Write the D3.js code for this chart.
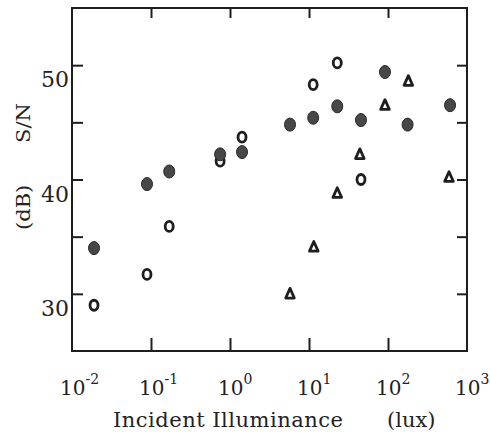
<!DOCTYPE html>
<html>
<head>
<meta charset="utf-8">
<script src="https://cdn.jsdelivr.net/npm/d3@7"></script>
<style>
  body { margin: 0; background: #fff; }
  text { font-family: "DejaVu Serif", serif; fill: #222; }
</style>
</head>
<body>
<svg id="chart" width="491" height="434"></svg>
<script>
// filled circles
const filledLux = [0.019, 0.089, 0.17, 0.75, 1.42, 5.75, 11.3, 22.8, 45.5, 91.6, 177, 610];
const filledDb = [34.0, 39.6, 40.7, 42.2, 42.4, 44.8, 45.4, 46.4, 45.2, 49.4, 44.8, 46.5];

// open circles
const openLux = [0.019, 0.089, 0.17, 0.75, 1.42, 11.3, 22.8, 45.5];
const openDb = [29.0, 31.7, 35.9, 41.6, 43.7, 48.3, 50.2, 40.0];

// open triangles
const triLux = [5.75, 11.5, 22.8, 44, 91.6, 181, 592];
const triDb = [30.0, 34.1, 38.8, 42.2, 46.5, 48.6, 40.2];

const xTicks = [1e-2, 1e-1, 1, 10, 100, 1000];
const xTickExp = ["-2", "-1", "0", "1", "2", "3"];
const xInnerTicks = [1e-1, 1, 10, 100];
const yLabelTicks = [30, 40, 50];
const yMarkTicks = [30, 35, 40, 45, 50];

const svg = d3.select("#chart");
const ink = "#1e1e1e";

const x = d3.scaleLog().domain([1e-2, 1e3]).range([72, 467]);
const y = d3.scaleLinear().domain([25, 55]).range([351, 8]);

// ticks pointing inward on all four sides
function styleAxis(g) {
  g.select(".domain").remove();
  g.selectAll(".tick line").attr("stroke", ink).attr("stroke-width", 2);
  g.selectAll(".tick text").remove();
}
svg.append("g").attr("transform", "translate(0,351)")
  .call(d3.axisBottom(x).tickValues(xInnerTicks).tickSize(-13)).call(styleAxis);
svg.append("g").attr("transform", "translate(0,8)")
  .call(d3.axisTop(x).tickValues(xInnerTicks).tickSize(-10)).call(styleAxis);
svg.append("g").attr("transform", "translate(72,0)")
  .call(d3.axisLeft(y).tickValues(yMarkTicks).tickSize(-11)).call(styleAxis);
svg.append("g").attr("transform", "translate(467,0)")
  .call(d3.axisRight(y).tickValues(yMarkTicks).tickSize(-10)).call(styleAxis);

svg.append("rect")
  .attr("x", x.range()[0]).attr("y", y.range()[1])
  .attr("width", x.range()[1] - x.range()[0])
  .attr("height", y.range()[0] - y.range()[1])
  .attr("fill", "none").attr("stroke", ink).attr("stroke-width", 2);

// y tick labels (sit just below their ticks)
svg.append("g").selectAll("text").data(yLabelTicks).join("text")
  .attr("x", 69).attr("y", d => y(d) + 22)
  .attr("text-anchor", "end").attr("font-size", 22)
  .text(d => d);

// x tick labels, 10 with superscript exponent
const xl = svg.append("g").selectAll("text").data(d3.zip(xTicks, xTickExp)).join("text")
  .attr("x", d => x(d[0]) - 12).attr("y", 395).attr("font-size", 20);
xl.append("tspan").text("10");
xl.append("tspan").attr("font-size", 14).attr("dy", -11).text(d => d[1]);

// axis titles
svg.append("text").attr("x", 113).attr("y", 427).attr("font-size", 21)
  .attr("letter-spacing", 0.5).text("Incident Illuminance");
svg.append("text").attr("x", 387).attr("y", 427).attr("font-size", 21).text("(lux)");

svg.append("text").attr("transform", "translate(30,230) rotate(-90) scale(1,0.9)")
  .attr("font-size", 21).text("(dB)");
svg.append("text").attr("transform", "translate(30,143) rotate(-90) scale(1,0.9)")
  .attr("font-size", 21).text("S/N");

// markers
const tallTriangle = {
  draw(context) {
    context.moveTo(0, -5.5);
    context.lineTo(4.3, 4.2);
    context.lineTo(-4.3, 4.2);
    context.closePath();
  }
};

svg.append("g").selectAll("ellipse").data(d3.zip(openLux, openDb)).join("ellipse")
  .attr("cx", d => x(d[0])).attr("cy", d => y(d[1]))
  .attr("rx", 4).attr("ry", 5)
  .attr("fill", "#fff").attr("stroke", ink).attr("stroke-width", 2.8);

svg.append("g").selectAll("path").data(d3.zip(triLux, triDb)).join("path")
  .attr("transform", d => `translate(${x(d[0])},${y(d[1])})`)
  .attr("d", d3.symbol().type(tallTriangle)())
  .attr("fill", "#fff").attr("stroke", ink).attr("stroke-width", 2.8)
  .attr("stroke-linejoin", "round");

svg.append("g").selectAll("ellipse").data(d3.zip(filledLux, filledDb)).join("ellipse")
  .attr("cx", d => x(d[0])).attr("cy", d => y(d[1]))
  .attr("rx", 5.5).attr("ry", 6.5)
  .attr("fill", "#474747").attr("stroke", "#2a2a2a").attr("stroke-width", 1);
</script>
</body>
</html>
